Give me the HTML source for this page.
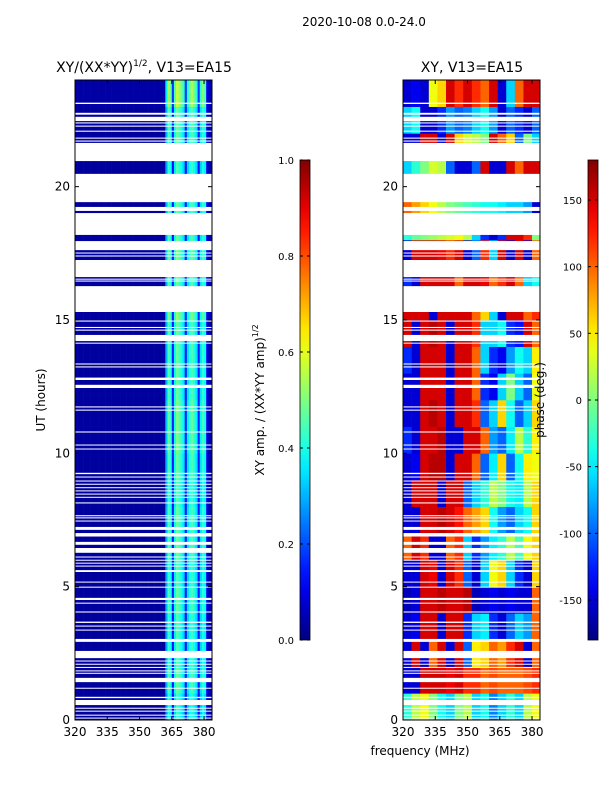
<!DOCTYPE html>
<html><head><meta charset="utf-8"><style>
body{margin:0;background:#fff;}
svg text{font-family:"DejaVu Sans","Liberation Sans",sans-serif;}
</style></head><body>
<svg id="fig" width="600" height="800" xmlns="http://www.w3.org/2000/svg">
<text x="364" y="26" font-size="12" text-anchor="middle">2020-10-08 0.0-24.0</text>
<text x="144" y="72" font-size="14" text-anchor="middle">XY/(XX*YY)<tspan font-size="9" dy="-6">1/2</tspan><tspan dy="6">, V13=EA15</tspan></text>
<text x="472" y="72" font-size="14" text-anchor="middle">XY, V13=EA15</text>
<g id="leftPlot"></g>
<g id="rightPlot"></g>
<g id="axes"></g>
<text transform="translate(45,400) rotate(-90)" font-size="12" text-anchor="middle">UT (hours)</text>
<text x="420" y="755" font-size="12" text-anchor="middle">frequency (MHz)</text>
<text transform="translate(264,400) rotate(-90)" font-size="12" text-anchor="middle">XY amp. / (XX*YY amp)<tspan font-size="8" dy="-6">1/2</tspan></text>
<text transform="translate(544,400) rotate(-90)" font-size="12" text-anchor="middle">phase (deg.)</text>
</svg>
<script>
// ---- data ----
const freqStart = 320, freqEnd = 383.7;
const hours = 24;
// amplitude per 1-MHz channel (320..383)
const ampChannels = [0.03,0.03,0.03,0.03,0.03,0.03,0.03,0.03,0.03,0.03,0.03,0.03,0.03,0.03,0.03,0.03,0.03,0.03,0.03,0.03,0.03,0.03,0.03,0.03,0.03,0.03,0.03,0.03,0.03,0.03,0.03,0.03,0.03,0.03,0.03,0.03,0.03,0.03,0.03,0.03,0.03,0.03,
 0.3,0.45,0.4,0.15,0.38,0.48,0.45,0.4,0.35,0.15,0.35,0.42,0.45,0.4,0.35,0.15,0.35,0.42,0.38,0.1,0.05,0.04];
// hourly amplitude gain
const ampHourGain = [0.9,1,0.95,0.95,1,0.95,1,1,0.95,1,1.05,1.05,1,1,1,1.1,1,1.05,1,1,0.95,1,1,1.2];
// phase (deg) per hour (rows 0..23) and 4-MHz bin (16 bins)
const phaseGrid = [
[-30,20,40,0,-40,-60,0,20,-60,-40,-90,-60,-30,-60,20,40],
[-150,-150,150,150,150,140,150,120,120,100,110,100,100,100,110,120],
[-150,150,-150,100,150,-150,150,-100,50,60,100,80,120,150,-150,100],
[-150,-140,150,150,-150,150,150,-120,-60,-50,-120,-150,-100,-60,-80,100],
[-160,-150,150,150,160,150,150,160,-160,-150,-140,-150,-140,-150,-150,100],
[-150,-150,150,140,-150,150,120,-100,-150,-60,40,60,-60,-120,-150,60],
[100,150,120,-150,-150,100,120,-60,-120,-80,-50,-30,20,-20,40,60],
[-150,-150,150,150,160,150,130,100,80,60,-40,-80,-100,-60,-40,60],
[-150,150,150,150,-150,150,150,-100,-60,-30,20,0,-40,-50,20,60],
[-150,-140,150,160,160,-150,150,150,100,-100,-50,60,-100,-40,50,40],
[-120,-150,150,150,160,-150,-150,150,150,100,-80,-100,-50,20,-30,50],
[-150,-150,150,160,150,-150,150,150,120,-100,-60,60,-40,-100,-60,60],
[-150,-150,150,150,150,-150,150,150,100,-120,-140,-60,0,-60,-100,40],
[-120,-150,150,150,150,-150,150,150,100,-60,-120,-140,-80,-40,-60,50],
[150,-150,150,160,150,-150,150,150,120,-60,-60,-40,-120,-130,150,100],
[150,150,150,-150,150,150,150,150,100,60,-60,-150,150,150,100,120],
[-120,-150,150,150,150,150,100,150,150,140,100,120,150,100,-60,-40],
[-150,150,150,150,140,120,150,-150,-100,120,-60,150,-150,150,-150,100],
[-30,-10,0,10,20,30,40,20,-60,-120,-150,-120,150,150,120,0],
[100,80,60,40,20,0,-10,-20,-30,-40,-40,-50,-60,-60,-80,-150],
[-60,-30,0,30,20,-100,-150,-150,-100,150,-150,-150,150,100,150,150],
[-150,-150,150,150,-150,150,60,30,20,0,150,100,60,-100,0,-60],
[-60,-40,-150,-150,-120,-80,-100,-90,-60,-40,-80,-150,-100,-120,-150,-100],
[-150,-140,-150,40,60,150,120,150,120,100,150,-150,-60,100,150,150]];
// flagged (blank) time intervals, hours
const blankStart = [23.10,22.70,22.46,22.37,22.25,22.06,21.80,21.69,20.96,20.10,19.42,19.09,18.19,17.62,17.50,17.38,16.61,16.52,16.44,15.30,14.94,14.70,14.60,14.21,14.12,13.33,13.22,12.75,12.45,11.72,11.60,10.78,10.30,10.15,9.22,9.10,8.95,8.83,8.70,8.58,8.46,8.34,8.12,7.64,7.56,7.45,7.13,6.88,6.57,6.27,6.10,5.98,5.87,5.76,5.55,5.16,4.97,4.50,4.37,4.03,3.64,3.51,3.36,2.93,2.32,2.20,2.08,1.96,1.83,1.74,1.42,1.18,0.82,0.56,0.43,0.32,0.17,0.06];
const blankEnd   = [23.15,22.77,22.62,22.41,22.29,22.10,21.84,21.73,21.64,20.48,20.25,19.24,19.01,17.96,17.53,17.42,17.25,16.55,16.48,16.27,14.98,14.74,14.64,14.44,14.15,13.37,13.26,12.84,12.57,11.76,11.64,10.82,10.33,10.18,9.27,9.13,8.98,8.86,8.73,8.61,8.49,8.37,8.16,7.68,7.60,7.48,7.24,7.01,6.68,6.45,6.13,6.01,5.90,5.79,5.62,5.19,5.00,4.58,4.40,4.07,3.69,3.54,3.39,3.04,2.59,2.23,2.11,1.99,1.86,1.77,1.58,1.21,0.87,0.75,0.46,0.35,0.20,0.09];
const yTicks = [0,5,10,15,20];
const xTicks = [320,335,350,365,380];
const ampTicks = ["0.0","0.2","0.4","0.6","0.8","1.0"];
const phaseTicks = [-150,-100,-50,0,50,100,150];

// ---- layout ----
const NS="http://www.w3.org/2000/svg";
const PT=80, PB=720;
const L={x0:75,x1:212}, R={x0:403,x1:540};
const yOf = h => PB-(PB-PT)*h/hours;
const xOf = (p,f) => p.x0+(p.x1-p.x0)*(f-freqStart)/(freqEnd-freqStart);
function jet(v){v=Math.max(0,Math.min(1,v));
 const r=Math.max(0,Math.min(1,1.5-Math.abs(4*v-3)));
 const g=Math.max(0,Math.min(1,1.5-Math.abs(4*v-2)));
 const b=Math.max(0,Math.min(1,1.5-Math.abs(4*v-1)));
 return `rgb(${Math.round(r*255)},${Math.round(g*255)},${Math.round(b*255)})`;}
function mk(tag,attrs,parent){const e=document.createElementNS(NS,tag);for(const k in attrs)e.setAttribute(k,attrs[k]);parent.appendChild(e);return e;}
const fig=document.getElementById('fig');
const lp=document.getElementById('leftPlot'), rp=document.getElementById('rightPlot'), ax=document.getElementById('axes');

for(let h=0;h<hours;h++){
 const y0=yOf(h+1), y1=yOf(h);
 ampChannels.forEach((a,c)=>{
  const fa=freqStart+c, fb=Math.min(freqEnd,fa+1);
  const x0=xOf(L,fa), x1=xOf(L,fb);
  const r=mk('rect',{x:x0,y:y0,width:x1-x0+0.3,height:y1-y0+0.3,fill:jet(a*ampHourGain[h])},lp);
  
  
 });
 phaseGrid[h].forEach((p,c)=>{
  const fa=freqStart+4*c, fb=Math.min(freqEnd,fa+4);
  const x0=xOf(R,fa), x1=xOf(R,fb);
  const r=mk('rect',{x:x0,y:y0,width:x1-x0+0.3,height:y1-y0+0.3,fill:jet((p+180)/360)},rp);
  
  
 });
}
blankStart.forEach((s,i)=>{
 const e=blankEnd[i];
 [L,R].forEach(P=>{
  const r=mk('rect',{x:P.x0,y:yOf(e),width:P.x1-P.x0,height:Math.max(1,yOf(s)-yOf(e)),fill:'#fff'},P===L?lp:rp);
  
  
 });
});

// axes frames and ticks
[L,R].forEach(P=>{
 const f=mk('rect',{x:P.x0,y:PT,width:P.x1-P.x0,height:PB-PT,fill:'none',stroke:'#000','stroke-width':1},ax);
 
 
 yTicks.forEach(t=>{const y=yOf(t);
  mk('line',{x1:P.x0,x2:P.x0+4,y1:y,y2:y,stroke:'#000'},ax);
  mk('line',{x1:P.x1,x2:P.x1-4,y1:y,y2:y,stroke:'#000'},ax);
  const tx=mk('text',{x:P.x0-5,y:y+4,'font-size':12,'text-anchor':'end'},ax);tx.textContent=t;
  
  
 });
 xTicks.forEach(t=>{const x=xOf(P,t);
  mk('line',{x1:x,x2:x,y1:PB,y2:PB-4,stroke:'#000'},ax);
  mk('line',{x1:x,x2:x,y1:PT,y2:PT+4,stroke:'#000'},ax);
  const tx=mk('text',{x:x,y:PB+16,'font-size':12,'text-anchor':'middle'},ax);tx.textContent=t;
  
  
 });
});

// colorbars
const defs=mk('defs',{},fig);
const g=mk('linearGradient',{id:'jetg',x1:0,y1:1,x2:0,y2:0},defs);
for(let i=0;i<=20;i++)mk('stop',{offset:i/20,'stop-color':jet(i/20)},g);
function colorbar(x,name,labels,valToFrac){
 const r=mk('rect',{x:x,y:160,width:10,height:480,fill:'url(#jetg)',stroke:'#000','stroke-width':0.8},ax);
 
 
 labels.forEach(l=>{const y=640-480*valToFrac(l);
  mk('line',{x1:x,x2:x+3,y1:y,y2:y,stroke:'#000'},ax);
  mk('line',{x1:x+10,x2:x+7,y1:y,y2:y,stroke:'#000'},ax);
  const tx=mk('text',{x:x-6,y:y+4,'font-size':10,'text-anchor':'end'},ax);tx.textContent=l;
  
  
 });
}
colorbar(300,'amp-colorbar',ampTicks,v=>parseFloat(v));
colorbar(588,'phase-colorbar',phaseTicks,v=>(v+180)/360);
</script>
</body></html>
